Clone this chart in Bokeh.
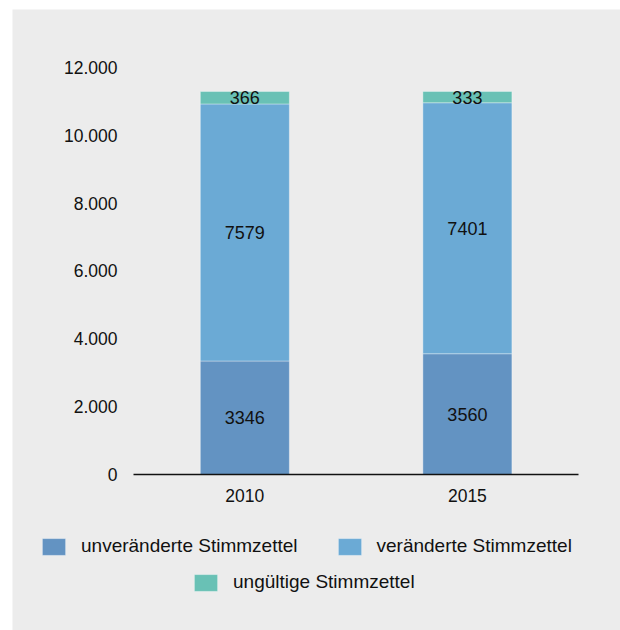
from bokeh.plotting import figure
from bokeh.models import ColumnDataSource, FixedTicker, Range1d, Legend, LegendItem
from bokeh.core.properties import value
from bokeh.embed import file_html
from bokeh.resources import INLINE

years = [2010, 2015]
year_labels = ["2010", "2015"]
unveraendert = [3346, 3560]
veraendert = [7579, 7401]
ungueltig = [366, 333]
series_names = ["unveränderte Stimmzettel", "veränderte Stimmzettel", "ungültige Stimmzettel"]
colors = ["#6393c2", "#6baad5", "#69c1b5"]
y_ticks = [0, 2000, 4000, 6000, 8000, 10000, 12000]
y_tick_labels = ["0", "2.000", "4.000", "6.000", "8.000", "10.000", "12.000"]

FONT = "Liberation Sans"
BG = "#ececec"
TXT = "#111111"

# layout (screen geometry of the plot area, expressed in data units)
AX_LEFT, AX_RIGHT = 2007.5, 2017.5
X_START, X_END = 2004.78, 2018.44
Y_START, Y_END = -4600, 13710
BAR_WIDTH = 2.0

source = ColumnDataSource(dict(years=years, unv=unveraendert, ver=veraendert, ung=ungueltig))

p = figure(x_range=Range1d(X_START, X_END), y_range=Range1d(Y_START, Y_END),
           width=608, height=621, output_backend="svg", toolbar_location=None,
           min_border_left=0, min_border_right=0, min_border_top=0, min_border_bottom=0,
           styles={"margin-left": "12px", "margin-top": "9px"})
p.background_fill_color = BG
p.border_fill_color = BG
p.outline_line_color = None
p.grid.grid_line_color = None

renderers = p.vbar_stack(["unv", "ver", "ung"], x="years", width=BAR_WIDTH, source=source,
                         color=colors, line_color="white", line_alpha=0.35, line_width=1)

# labels centered in each segment
lab_x, lab_y, lab_t = [], [], []
for i, yr in enumerate(years):
    base = 0
    for vals in (unveraendert, veraendert, ungueltig):
        v = vals[i]
        lab_x.append(yr)
        lab_y.append(base + v / 2)
        lab_t.append(str(v))
        base += v
p.text(x=lab_x, y=lab_y, text=lab_t, text_align="center", text_baseline="middle",
       text_font=value(FONT), text_font_size="18px", text_color=TXT)

p.yaxis.fixed_location = AX_LEFT
p.yaxis.ticker = FixedTicker(ticks=y_ticks)
p.yaxis.major_label_overrides = {t: l for t, l in zip(y_ticks, y_tick_labels)}
p.yaxis.axis_line_color = None
p.yaxis.major_tick_line_color = None
p.yaxis.minor_tick_line_color = None
p.yaxis.major_tick_out = 0
p.yaxis.major_tick_in = 0
p.yaxis.major_label_standoff = 16
p.yaxis.major_label_text_font = FONT
p.yaxis.major_label_text_font_size = "17.5px"
p.yaxis.major_label_text_color = TXT

p.xaxis.fixed_location = 0
p.xaxis.bounds = (AX_LEFT, AX_RIGHT)
p.xaxis.ticker = FixedTicker(ticks=years)
p.xaxis.major_label_overrides = {y: l for y, l in zip(years, year_labels)}
p.xaxis.axis_line_color = TXT
p.xaxis.axis_line_width = 1.5
p.xaxis.major_tick_line_color = None
p.xaxis.minor_tick_line_color = None
p.xaxis.major_tick_out = 0
p.xaxis.major_tick_in = 0
p.xaxis.major_label_standoff = 15
p.xaxis.major_label_text_font = FONT
p.xaxis.major_label_text_font_size = "17.5px"
p.xaxis.major_label_text_color = TXT

def mk_legend(items, loc):
    return Legend(items=items, location=loc, orientation="horizontal",
                  padding=0, margin=0, spacing=37, label_standoff=13,
                  glyph_width=29, glyph_height=21,
                  border_line_color=None, background_fill_alpha=0,
                  label_text_font=FONT, label_text_font_size="19px", label_text_color=TXT)

leg1 = mk_legend([LegendItem(label=series_names[0], renderers=[renderers[0]]),
                  LegendItem(label=series_names[1], renderers=[renderers[1]])], (27, 73))
leg2 = mk_legend([LegendItem(label=series_names[2], renderers=[renderers[2]])], (179, 37))
p.add_layout(leg1, "center")
p.add_layout(leg2, "center")

open("out.html", "w").write(file_html(p, INLINE))
